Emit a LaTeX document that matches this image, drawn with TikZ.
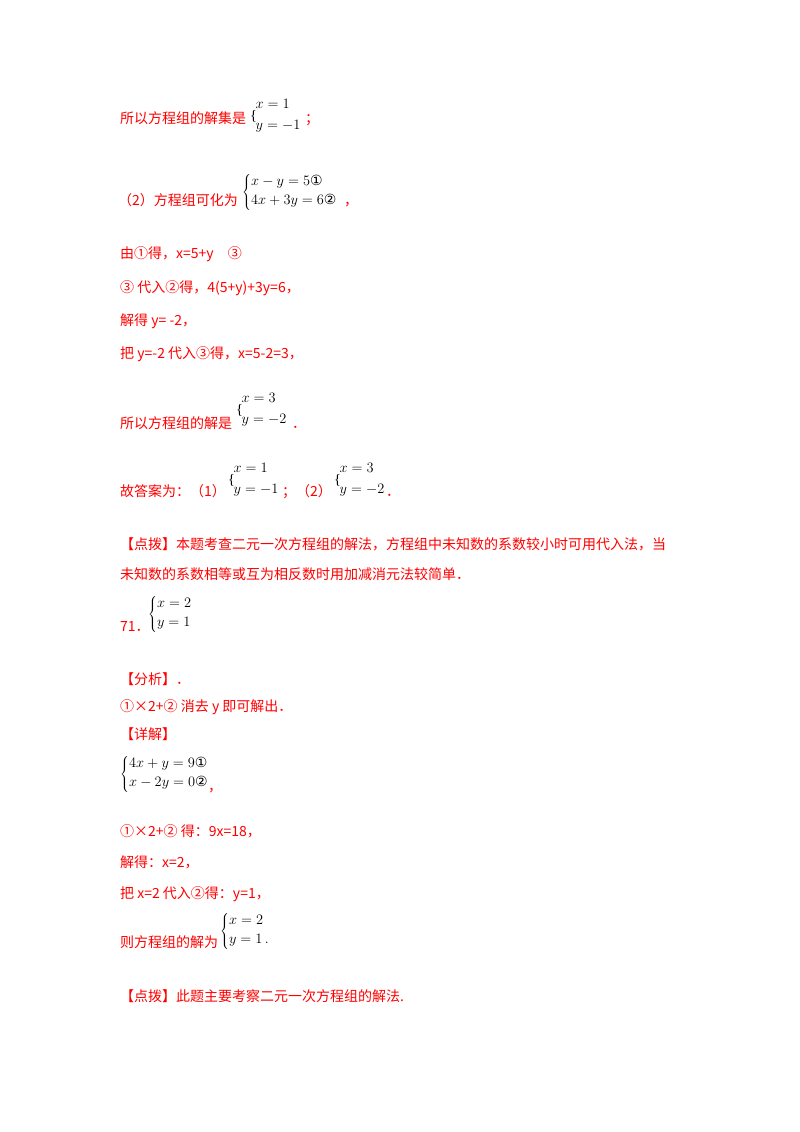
\documentclass[tikz,border=0pt]{standalone}
\usepackage{fontspec}
\setmainfont{Liberation Serif}
\newfontfamily\cjk{Noto Sans CJK SC}
\newfontfamily\dv{DejaVu Sans}
\begin{document}
\begin{tikzpicture}[x=1pt,y=-1pt,
  rt/.style={anchor=base west,inner sep=0pt,text=red,font=\cjk\fontsize{14}{17}\selectfont},
  mt/.style={anchor=base west,inner sep=0pt,font=\fontsize{14}{17}\selectfont},
  sys/.style={anchor=west,inner sep=0pt,font=\fontsize{14.5}{17}\selectfont}]
\useasboundingbox[fill=white] (0,0) rectangle (800,1132);
\newcommand{\cc}[1]{\mbox{\dv\fontsize{14}{14}\selectfont #1}}
\newcommand{\smsys}[2]{\raisebox{-0.2ex}{\{}\hspace{-0.1em}\begin{tabular}[c]{@{}l@{}}$#1$\\[4pt]$#2$\end{tabular}}
\newcommand{\bigsys}[2]{$\left\{\begin{array}{@{}l@{}}#1\\[2pt]#2\end{array}\right.$}
\node[rt] (a1) at (120,123) {所以方程组的解集是};
\node[sys] (s1) at (250,116) {\smsys{x=1}{y=-1}};
\node[rt] (a1e) at (305,123) {；};
\node[rt] (a2) at (118,205) {（2）方程组可化为};
\node[sys] (s2) at (242,192) {\bigsys{x-y=5\cc{①}}{4x+3y=6\cc{②}}};
\node[rt] (a2e) at (344,205) {，};
\node[rt] (a3) at (120,258) {由①得，x=5+y\quad ③};
\node[rt] (a4) at (120,292) {③ 代入②得，4(5+y)+3y=6，};
\node[rt] (a5) at (120,325) {解得 y= -2，};
\node[rt] (a6) at (120,358) {把 y=-2 代入③得，x=5-2=3，};
\node[rt] (a7) at (120,428) {所以方程组的解是};
\node[sys] (s7) at (236,410) {\smsys{x=3}{y=-2}};
\node[rt] (a7e) at (292,428) {．};
\node[rt] (a8) at (120,496) {故答案为：（1）};
\node[sys] (s8) at (228,480) {\smsys{x=1}{y=-1}};
\node[rt] (a8b) at (282,496) {；（2）};
\node[sys] (s8b) at (334,480) {\smsys{x=3}{y=-2}};
\node[rt] (a8e) at (386,496) {．};
\node[rt] (a9) at (120,549) {【点拨】本题考查二元一次方程组的解法，方程组中未知数的系数较小时可用代入法，当};
\node[rt] (a10) at (120,579) {未知数的系数相等或互为相反数时用加减消元法较简单．};
\node[rt] (a11) at (120,631) {71．};
\node[sys] (s11) at (148,614) {\bigsys{x=2}{y=1}};
\node[rt] (a12) at (120,684) {【分析】．};
\node[rt] (a13) at (120,711) {①×2+② 消去 \textit{y} 即可解出．};
\node[rt] (a14) at (120,739) {【详解】};
\node[sys] (s14) at (120,774) {\bigsys{4x+y=9\cc{①}}{x-2y=0\cc{②}}};
\node[rt] (a14e) at (208,791) {，};
\node[rt] (a15) at (120,836) {①×2+② 得：9\textit{x}=18，};
\node[rt] (a16) at (120,867) {解得：\textit{x}=2，};
\node[rt] (a17) at (120,898) {把 \textit{x}=2 代入②得：\textit{y}=1，};
\node[rt] (a18) at (120,947) {则方程组的解为};
\node[sys] (s18) at (220,931) {\bigsys{x=2}{y=1\,.}};
\node[rt] (a19) at (120,1001) {【点拨】此题主要考察二元一次方程组的解法.};
\end{tikzpicture}
\end{document}
